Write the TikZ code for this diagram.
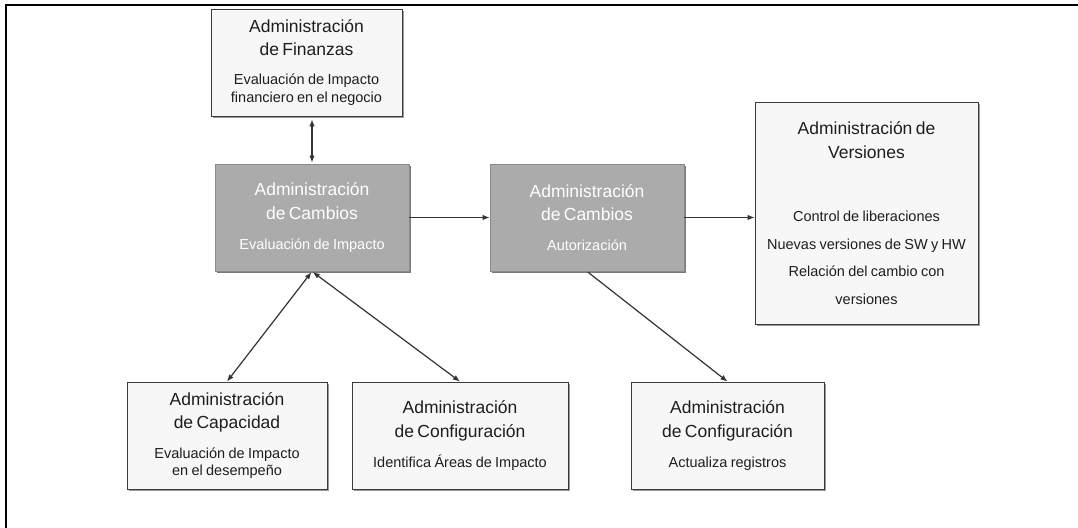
\documentclass[tikz,border=0pt]{standalone}
\usepackage{fontspec}
\setmainfont{Liberation Sans}
\usetikzlibrary{arrows.meta,shadows}

\definecolor{boxfill}{HTML}{F7F7F7}
\definecolor{boxline}{HTML}{3A3A3A}
\definecolor{shade}{HTML}{9A9A9A}
\definecolor{keyfill}{HTML}{ABABAB}
\definecolor{keyline}{HTML}{8A8A8A}
\definecolor{keyshade}{HTML}{7A7A7A}
\definecolor{linkcol}{HTML}{333333}
\definecolor{inkcol}{HTML}{1E1E1E}

\newcommand\txttitle{\fontsize{17.5}{23.5}\selectfont}
\newcommand\txtsub{\fontsize{14.5}{17.5}\selectfont}
\newcommand\txtlist{\fontsize{14.5}{27.5}\selectfont}

\tikzset{
  basebox/.style={inner sep=0pt, align=center, line width=0.8pt},
  procbox/.style={basebox, draw=boxline, fill=boxfill, text=inkcol,
    drop shadow={shadow xshift=2pt, shadow yshift=-2pt, fill=shade, opacity=1}},
  keybox/.style={basebox, draw=keyline, fill=keyfill, text=white,
    drop shadow={shadow xshift=2pt, shadow yshift=-2pt, fill=keyshade, opacity=1}},
  dims/.style 2 args={minimum width=#1pt, text width=#1pt, minimum height=#2pt},
  link/.style={draw=linkcol, line width=1.2pt},
  >={Latex[length=7pt,width=5.5pt]}
}

\begin{document}
\begin{tikzpicture}[x=1pt, y=-1pt]
  \fill[white] (0,0) rectangle (1078,527);
  \useasboundingbox (0,0) rectangle (1078,527);

  % frame lines, top and left
  \draw[line width=2pt, line cap=rect] (1077,5) -- (6,5) -- (6,527);

  % process boxes
  \node[procbox, dims={191}{107}] (fin) at (306.5,62.5)
    {{\txttitle Administración\\ de Finanzas\par}\vspace{11.5pt}
     {\txtsub Evaluación de Impacto\\ financiero en el negocio\par}};

  \node[keybox, dims={194}{107}] (c1) at (312,217.5)
    {{\txttitle Administración\\ de Cambios\par}\vspace{12.5pt}
     {\txtsub Evaluación de Impacto\par}};

  \node[keybox, dims={194}{107}] (c2) at (587,217.5)
    {{\txttitle Administración\\ de Cambios\par}\vspace{12.5pt}
     {\txtsub Autorización\par}};

  \node[procbox, dims={223}{222}] (ver) at (866.5,213)
    {{\txttitle Administración de\\ Versiones\par}\vspace{36pt}
     {\txtlist Control de liberaciones\\ Nuevas versiones de SW y HW\\
      Relación del cambio con\\ versiones\par}};

  \node[procbox, dims={200}{107}] (cap) at (227,435.5)
    {{\txttitle Administración\\ de Capacidad\par}\vspace{12pt}
     {\txtsub Evaluación de Impacto\\ en el desempeño\par}};

  \node[procbox, dims={216}{107}] (cf1) at (460,435.5)
    {{\txttitle Administración\\ de Configuración\par}\vspace{12.5pt}
     {\txtsub Identifica Áreas de Impacto\par}};

  \node[procbox, dims={193}{107}] (cf2) at (727.5,435.5)
    {{\txttitle Administración\\ de Configuración\par}\vspace{12.5pt}
     {\txtsub Actualiza registros\par}};

  % connectors
  \draw[link, <->, shorten <=3pt, shorten >=1pt] (c1.north |- fin.south) -- (c1.north);
  \draw[link, ->] (c1.east) -- (c2.west);
  \draw[link, ->] (c2.east) -- (ver.west |- c2.east);
  \draw[link, <->, shorten <=1pt] (c1.south) -- (cap.north);
  \draw[link, <->, shorten <=1pt] (c1.south) -- (cf1.north);
  \draw[link, ->, shorten <=1pt] (c2.south) -- (cf2.north);
\end{tikzpicture}
\end{document}
